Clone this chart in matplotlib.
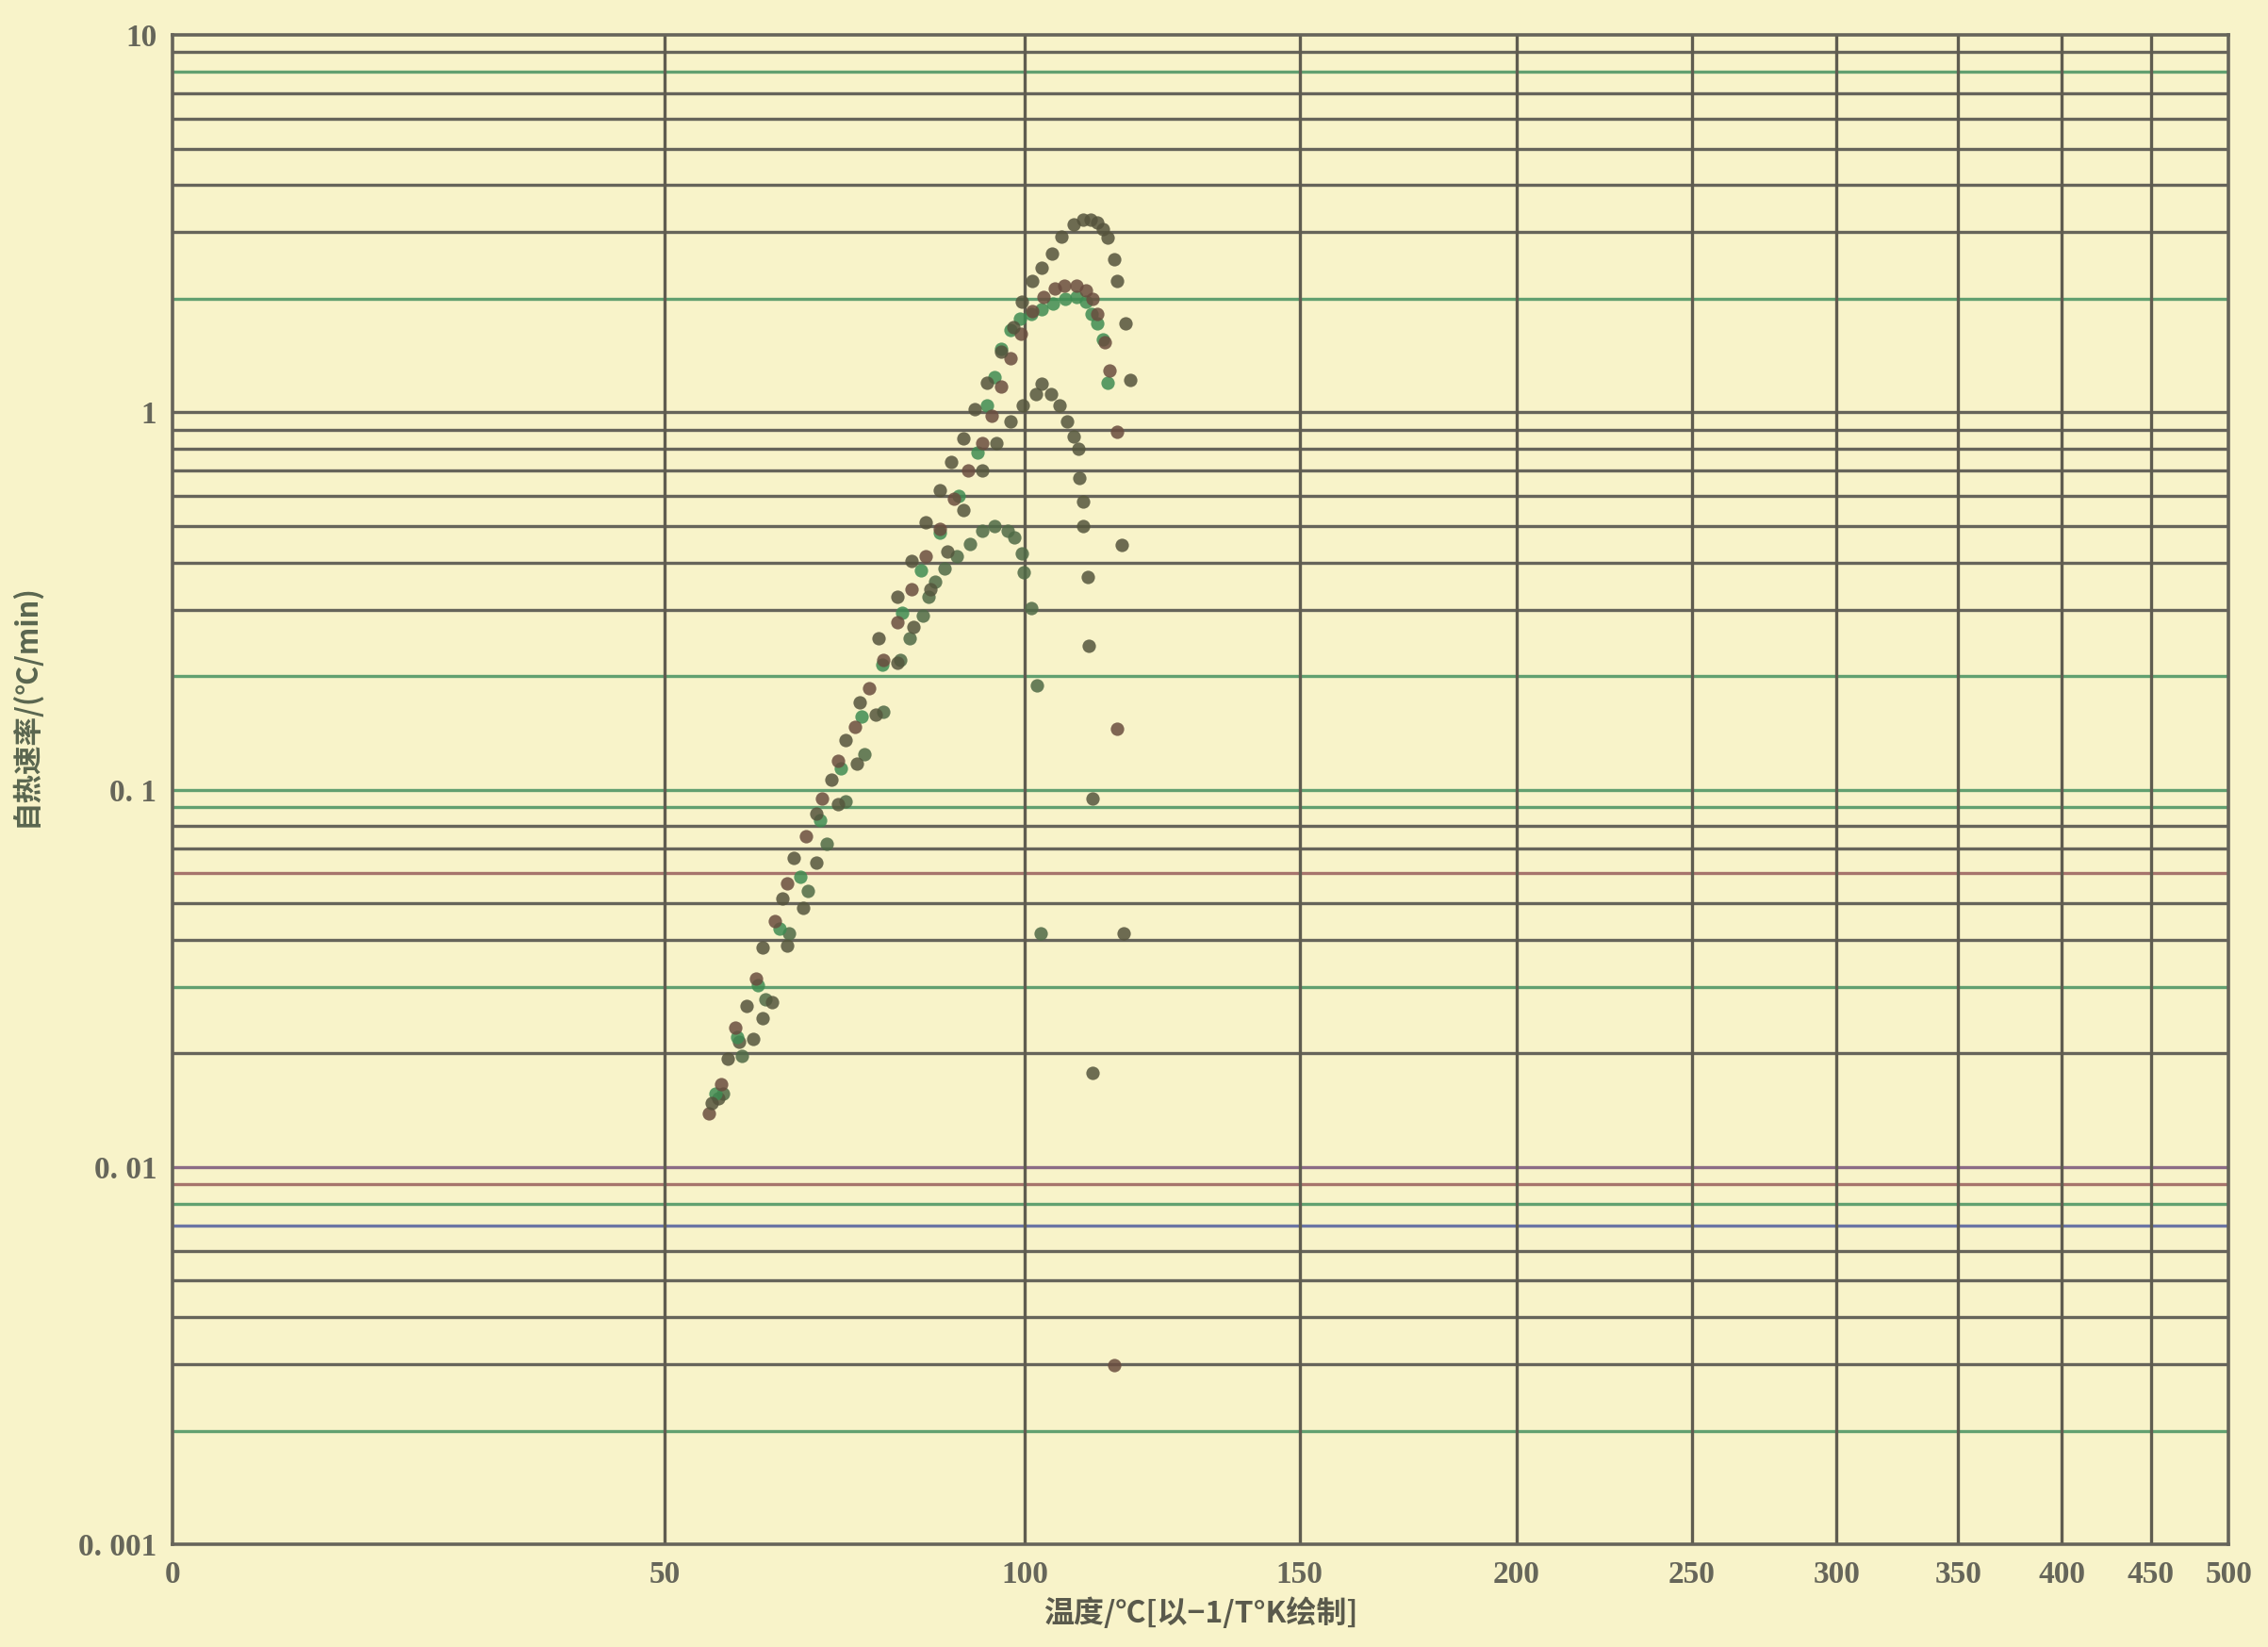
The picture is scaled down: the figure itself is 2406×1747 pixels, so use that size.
import matplotlib.pyplot as plt
from matplotlib.ticker import FixedLocator, NullLocator

# self-heating rate vs temperature, x axis drawn as -1/T(K)
a_temp = [55.8, 57.8, 60.2, 62.2, 64.8, 66.3, 69.3, 71.4, 73.4, 75.3, 78.0, 80.7,
          82.7, 84.8, 86.9, 88.6, 90.5, 92.2, 94.1, 96.3, 98.2, 99.6, 101.2, 102.8,
          104.5, 106.0, 108.1, 109.6, 110.9, 112.0, 113.0, 113.8, 115.0, 115.5,
          117.0, 117.8, 116.3, 116.6]
a_rate = [0.0148, 0.0193, 0.0267, 0.0382, 0.0514, 0.0659, 0.0864, 0.106, 0.135,
          0.170, 0.252, 0.324, 0.404, 0.51, 0.62, 0.74, 0.852, 1.02, 1.20, 1.45,
          1.68, 1.96, 2.23, 2.42, 2.63, 2.92, 3.15, 3.24, 3.24, 3.18, 3.06, 2.90,
          2.54, 2.23, 1.72, 1.22, 0.445, 0.0416]

b_temp = [55.4, 57.0, 58.8, 61.4, 63.9, 65.5, 68.0, 70.1, 72.3, 74.6, 76.6, 78.6,
          80.7, 82.7, 84.8, 86.9, 89.0, 91.2, 93.4, 94.8, 96.3, 97.8, 99.4, 101.2,
          103.1, 104.9, 106.5, 108.5, 110.1, 111.2, 112.0, 113.3, 114.1, 115.5,
          115.5, 115.0]
b_rate = [0.0139, 0.0166, 0.0234, 0.0316, 0.0448, 0.0564, 0.0752, 0.0947, 0.119,
          0.147, 0.186, 0.221, 0.278, 0.340, 0.415, 0.49, 0.59, 0.70, 0.83, 0.98,
          1.17, 1.39, 1.61, 1.85, 2.02, 2.13, 2.16, 2.16, 2.10, 2.00, 1.82, 1.53,
          1.29, 0.89, 0.145, 0.00298]

e_temp = [56.2, 59.0, 61.6, 64.5, 67.2, 69.9, 72.7, 75.6, 78.5, 81.3, 84.1, 86.9,
          89.7, 92.6, 94.1, 95.3, 96.3, 97.8, 99.3, 101.1, 102.8, 104.6, 106.7,
          108.5, 110.1, 111.0, 112.0, 113.0, 113.8]
e_rate = [0.0156, 0.0221, 0.0303, 0.0428, 0.0587, 0.0830, 0.114, 0.156, 0.214,
          0.294, 0.381, 0.48, 0.60, 0.78, 1.04, 1.24, 1.47, 1.65, 1.77, 1.82, 1.87,
          1.94, 2.00, 2.02, 1.96, 1.82, 1.72, 1.56, 1.20]

c_temp = [56.6, 59.2, 61.0, 62.2, 63.5, 65.5, 67.6, 69.3, 72.3, 74.9, 77.6, 80.7,
          83.0, 85.5, 88.0, 90.5, 93.4, 95.6, 97.8, 99.7, 101.9, 102.8, 104.3,
          105.7, 107.0, 108.1, 108.8, 109.0, 109.6, 109.7, 110.4, 110.6, 111.2, 111.2]
c_rate = [0.0152, 0.0215, 0.0218, 0.0248, 0.0273, 0.0386, 0.0486, 0.0640, 0.0915,
          0.117, 0.158, 0.217, 0.270, 0.340, 0.427, 0.55, 0.70, 0.83, 0.945, 1.04,
          1.12, 1.19, 1.12, 1.04, 0.945, 0.86, 0.80, 0.67, 0.58, 0.50, 0.366, 0.240,
          0.0947, 0.0178]

d_temp = [57.2, 59.6, 62.6, 65.7, 68.2, 70.8, 73.4, 76.0, 78.6, 81.1, 82.4, 84.4,
          85.2, 86.2, 87.6, 89.5, 91.5, 93.4, 95.3, 97.3, 98.3, 99.6, 99.9, 101.1,
          102.0, 102.6]
d_rate = [0.0156, 0.0197, 0.0278, 0.0416, 0.0539, 0.0718, 0.0931, 0.124, 0.161,
          0.221, 0.252, 0.289, 0.324, 0.356, 0.385, 0.415, 0.447, 0.485, 0.50, 0.485,
          0.466, 0.422, 0.377, 0.303, 0.189, 0.0416]

series = [
    (d_temp, d_rate, '#4f6a46'),
    (c_temp, c_rate, '#55563d'),
    (e_temp, e_rate, '#3f8c52'),
    (b_temp, b_rate, '#6a4d3f'),
    (a_temp, a_rate, '#55533c'),
]

x_ticks = [0, 50, 100, 150, 200, 250, 300, 350, 400, 450, 500]
y_ticks = [0.001, 0.01, 0.1, 1, 10]
y_tick_labels = ['0. 001', '0. 01', '0. 1', '1', '10']

# colour of each printed horizontal rule, 0.002 ... 9
g, G, R, B, P = '#66645a', '#62a070', '#a6746c', '#6c76a4', '#8c6c86'
h_lines = [k * 10.0 ** e for e in range(-3, 1) for k in range(1, 10)][1:]
h_colors = [G, g, g, g, g, B, G, R,
            P, g, G, g, g, R, g, g, G,
            G, G, g, g, g, g, g, g, g,
            g, G, g, g, g, g, g, G, g]

paper = '#f8f3c9'
fig = plt.figure(figsize=(24.06, 17.47), dpi=100, facecolor=paper)
ax = fig.add_axes([0.0761, 0.0624, 0.9065, 0.9164], facecolor=paper)

ax.set_yscale('log')
ax.set_xscale('function', functions=(lambda t: -1.0 / (t + 273.15),
                                     lambda u: -1.0 / u - 273.15))
ax.set_xlim(0, 500)
ax.set_ylim(0.001, 10)

for v, c in zip(h_lines, h_colors):
    ax.axhline(v, color=c, lw=2.4, zorder=1)
for t in x_ticks[1:-1]:
    ax.axvline(t, color='#5f5c50', lw=2.4, zorder=1)

for temp, rate, col in series:
    ax.scatter(temp, rate, s=105, color=col, alpha=0.85, linewidths=0, zorder=3)

ax.xaxis.set_major_locator(FixedLocator(x_ticks))
ax.xaxis.set_minor_locator(NullLocator())
ax.set_xticklabels([str(t) for t in x_ticks])
ax.yaxis.set_major_locator(FixedLocator(y_ticks))
ax.yaxis.set_minor_locator(NullLocator())
ax.set_yticklabels(y_tick_labels)
ax.tick_params(length=0, labelsize=24, labelcolor='#66665a', pad=12)
for lab in ax.get_xticklabels() + ax.get_yticklabels():
    lab.set_family('Liberation Serif')
    lab.set_weight('bold')

for s in ax.spines.values():
    s.set_color('#66645a')
    s.set_linewidth(2.6)

cjk = ['Noto Sans CJK SC', 'DejaVu Sans']
ax.set_xlabel('温度/℃[以−1/T°K绘制]', family=cjk, fontsize=23, weight='bold',
              color='#5a5a4c', labelpad=6)
ax.set_ylabel('自热速率/(℃/min)', family=cjk, fontsize=22, weight='bold',
              color='#5a6650')
ax.yaxis.set_label_coords(-0.064, 0.556)

fig.savefig('out.png', dpi=100, facecolor=paper)
